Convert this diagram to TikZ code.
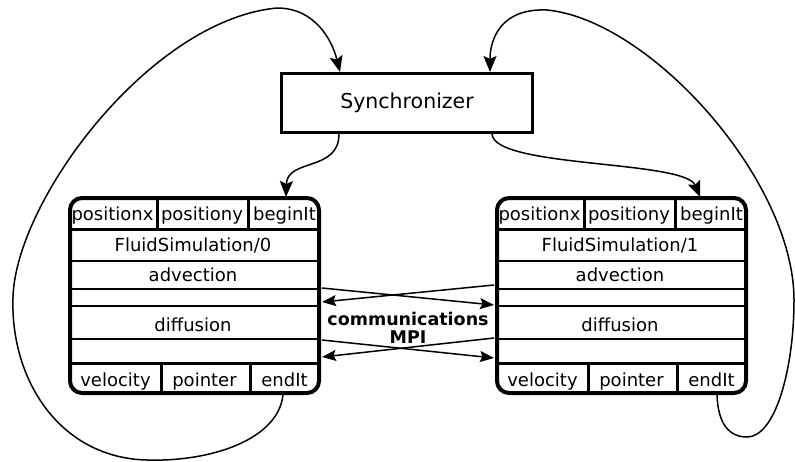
\documentclass[tikz,border=0pt]{standalone}
\usepackage{fontspec}
\setmainfont{DejaVu Sans}
\usetikzlibrary{arrows.meta,calc}
\newcommand\fluidbox[3]{%
\begin{scope}[shift={(#2,0)},name prefix=#1-]
\node[frame] (frame) at (126.5,295.5) {};
\draw[thick rule] (2,229) -- (251,229);
\draw[thin rule] (2,261) -- (251,261);
\draw[mid rule] (2,289) -- (251,289);
\draw[thin rule] (2,306) -- (251,306);
\draw[thin rule] (2,339) -- (251,339);
\draw[thick rule] (2,363) -- (251,363);
\draw[thick rule] (89.5,198) -- (89.5,229);
\draw[thick rule] (180.5,198) -- (180.5,229);
\draw[thick rule] (93.5,363) -- (93.5,393);
\draw[thick rule] (182,363) -- (182,393);
\node[cell] (px) at (44.5,220) {positionx};
\node[cell] (py) at (134,220) {positiony};
\node[cell] (bi) at (216.5,220) {beginIt};
\node[cell] (title) at (125,251) {FluidSimulation/#3};
\node[cell] (adv) at (125,281) {advection};
\node[cell] (dif) at (125,331) {diffusion};
\node[cell] (vel) at (47.5,386) {velocity};
\node[cell] (ptr) at (136.5,386) {pointer};
\node[cell] (end) at (216.5,386) {endIt};
\end{scope}}
\begin{document}
\begin{tikzpicture}[x=1pt,y=-1pt,
  cell/.style={anchor=base,inner sep=0pt,font=\fontsize{18}{21}\selectfont},
  frame/.style={draw,rounded corners=12pt,line width=4pt,inner sep=0pt,minimum width=249pt,minimum height=195pt},
  thin rule/.style={line width=1.6pt},
  mid rule/.style={line width=2.2pt},
  thick rule/.style={line width=3pt},
  conn/.style={line width=1.5pt,-{Stealth[length=16pt,width=13pt,inset=3pt]}},
  mpi/.style={line width=1.5pt,-{Stealth[length=14pt,width=11pt,inset=2.5pt]}},
  ]
\useasboundingbox (0,0) rectangle (795,461);
% Synchronizer
\node[draw,line width=3pt,inner sep=0pt,minimum width=251pt,minimum height=59pt,
  font=\fontsize{20.5}{24}\selectfont] (sync) at (407,103) {Synchronizer};
% boxes
\fluidbox{L}{68}{0}
\fluidbox{R}{495}{1}
% named end points
\coordinate (syncInL) at (340,72);
\coordinate (syncInR) at (490,72);
\coordinate (syncOutL) at (339,134);
\coordinate (syncOutR) at (492,134);
\coordinate (LIn) at (286,197);
\coordinate (RIn) at (700,197);
\coordinate (LOut) at (283,395);
\coordinate (ROut) at (717,395);
\coordinate (La1) at (322,288);
\coordinate (La2) at (322,302);
\coordinate (La3) at (322,340);
\coordinate (La4) at (322,357);
\coordinate (Ra1) at (494,305);
\coordinate (Ra2) at (494,285);
\coordinate (Ra3) at (494,358);
\coordinate (Ra4) at (494,338);
% synchronizer to boxes
\draw[conn] (syncOutL) .. controls (339,172) and (287,158) .. (LIn);
\draw[conn] (syncOutR) .. controls (494,168) and (685,160) .. (RIn);
% big loops
\draw[conn] (LOut) .. controls (278,440) and (210,462) .. (147,460)
  .. controls (60,458) and (10,380) .. (13,297)
  .. controls (16,200) and (150,20) .. (277,8)
  .. controls (315,8) and (332,40) .. (syncInL);
\draw[conn] (ROut) .. controls (718,425) and (730,437) .. (747,437)
  .. controls (775,437) and (794,370) .. (794,300)
  .. controls (794,180) and (650,20) .. (547,10)
  .. controls (500,8) and (490,40) .. (syncInR);
% MPI communications
\draw[mpi] (La1) -- (Ra1);
\draw[mpi] (Ra2) -- (La2);
\draw[mpi] (La3) -- (Ra3);
\draw[mpi] (Ra4) -- (La4);
\node[anchor=base,inner sep=0pt,font=\fontsize{17.5}{20}\selectfont\bfseries] (comm) at (408,325) {communications};
\node[anchor=base,inner sep=0pt,font=\fontsize{17.5}{20}\selectfont\bfseries] (mpitxt) at (408,343) {MPI};
\end{tikzpicture}
\end{document}
